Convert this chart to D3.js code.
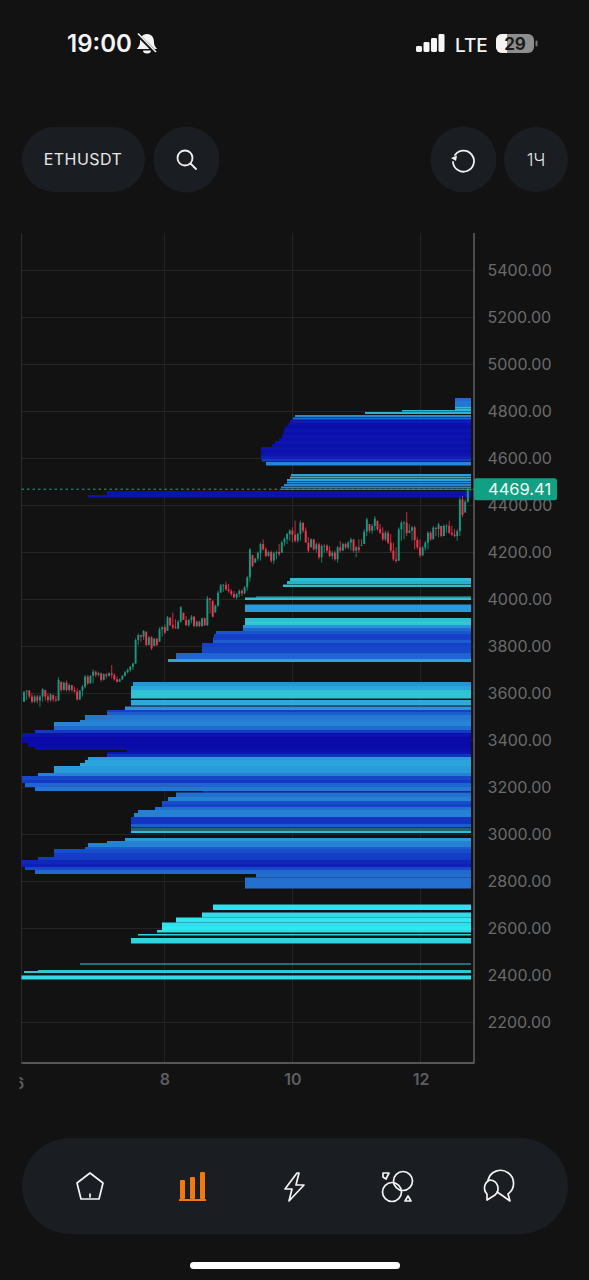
<!DOCTYPE html>
<html><head><meta charset="utf-8">
<style>html,body{margin:0;padding:0;background:#121212;overflow:hidden}svg{display:block}text{font-family:Inter,"Noto Sans",sans-serif}</style>
<script src="https://cdn.jsdelivr.net/npm/d3@7"></script></head><body>
<script>
// ---- data (price high, price low, first day of the liquidity band, intensity 0-100)
const bandsUpper=[[4857.4,4844.7,12.539,40],[4844.7,4831.9,12.539,45],[4831.9,4819.1,12.539,45],[4819.1,4812.8,12.539,75],[4812.8,4806.4,12.539,70],[4806.4,4800,11.711,70],[4797.9,4789.4,11.133,68],[4785.1,4776.6,10.039,52],[4774.5,4766,10.008,42],[4763.8,4751.1,9.961,8],[4751.1,4738.3,9.93,4],[4738.3,4725.5,9.883,2],[4725.5,4712.8,9.867,5],[4712.8,4700,9.852,2],[4700,4687.2,9.836,5],[4687.2,4674.5,9.789,2],[4674.5,4661.7,9.727,5],[4661.7,4648.9,9.68,3],[4648.9,4636.2,9.508,5],[4636.2,4623.4,9.508,3],[4623.4,4610.6,9.508,6],[4610.6,4597.9,9.508,10],[4597.9,4587.2,9.523,22],[4585.1,4570.2,9.586,50]];
const bandsNear=[[4534,4525.5,9.977,60],[4523.4,4514.9,9.961,65],[4512.8,4504.3,9.914,60],[4502.1,4493.6,9.914,55],[4491.5,4483,9.867,50],[4480.9,4474.5,9.82,50],[4472.3,4466,9.82,45],[4461.7,4444.7,7.102,4],[4444.7,4434,6.805,4]];
const bandsSupport=[[4091.5,4078.7,9.961,72],[4078.7,4066,9.914,65],[4063.8,4053.2,9.852,72],[4012.8,4008.5,9.43,70],[4008.5,3997.9,9.258,75],[3978.7,3946.8,9.258,58],[3921.3,3908.5,9.258,72],[3908.5,3891.5,9.258,78],[3891.5,3878.7,9.227,55],[3878.7,3866,9.227,40],[3866,3853.2,8.805,32],[3853.2,3840.4,8.773,25],[3840.4,3827.7,8.758,25],[3827.7,3814.9,8.758,35],[3814.9,3797.9,8.586,25],[3797.9,3772.3,8.586,28],[3772.3,3746.8,8.18,38],[3746.8,3734,8.055,62]];
const bandsMain=[[3648.9,3631.9,7.508,55],[3631.9,3614.9,7.477,62],[3614.9,3597.9,7.477,75],[3597.9,3578.7,7.477,76],[3572.3,3563.8,7.477,65],[3563.8,3548.9,7.477,65],[3544.7,3529.8,7.383,55],[3529.8,3521.3,7.102,25],[3521.3,3508.5,7.102,35],[3508.5,3487.2,6.758,45],[3487.2,3478.7,6.68,48],[3478.7,3461.7,6.273,50],[3461.7,3444.7,6.273,40],[3444.7,3431.9,5.977,22],[3431.9,3414.9,5.773,4],[3414.9,3389.4,5.773,0],[3389.4,3372.3,5.867,0],[3372.3,3359.6,5.977,2],[3359.6,3351.1,7.414,3],[3351.1,3342.6,7.102,6],[3342.6,3329.8,7.102,18],[3329.8,3317,6.805,58],[3317,3304.3,6.758,62],[3304.3,3291.5,6.68,62],[3291.5,3278.7,6.273,58],[3278.7,3261.7,6.273,58],[3261.7,3248.9,6.023,48],[3248.9,3231.9,5.773,28],[3231.9,3219.2,5.773,22],[3219.2,3202.1,5.82,38],[3202.1,3185.1,5.977,45]];
const bandsLowerBlue=[[3185.1,3178.7,8.602,15],[3178.7,3159.6,8.18,42],[3159.6,3142.6,8.055,48],[3142.6,3129.8,7.961,30],[3129.8,3117,7.961,25],[3117,3104.3,7.852,42],[3104.3,3091.5,7.586,48],[3091.5,3074.5,7.523,48],[3074.5,3057.4,7.477,20],[3057.4,3044.7,7.477,20],[3044.7,3029.8,7.477,35],[3025.5,3021.3,7.477,70],[3017,3006.4,7.477,72],[2985.1,2972.3,7.383,58],[2972.3,2963.8,7.102,50],[2963.8,2946.8,6.805,48],[2946.8,2938.3,6.758,35],[2938.3,2921.3,6.273,30],[2921.3,2904.3,6.273,24],[2904.3,2891.5,6.023,22],[2891.5,2874.5,5.773,14],[2874.5,2861.7,5.773,10],[2861.7,2848.9,5.82,28],[2848.9,2831.9,5.977,40],[2831.9,2817,9.43,42],[2817,2770.2,9.258,42]];
const bandsCyan=[[2702.1,2678.7,8.758,95],[2668.1,2646.8,8.586,92],[2646.8,2625.5,8.18,100],[2625.5,2610.6,7.961,95],[2610.6,2593.6,7.961,100],[2593.6,2583,7.883,92],[2576.6,2570.2,7.586,85],[2559.6,2536.2,7.477,85],[2451.1,2446.8,6.68,80],[2423.4,2419.2,6.023,75],[2419.2,2410.6,5.805,78],[2400,2383,5.766,92]];
const bandEndDay=12.789;

const candleHigh=[3608,3615,3615,3601,3594,3594,3594,3622,3615,3601,3601,3594,3590,3669,3650,3650,3655,3643,3636,3629,3622,3615,3636,3679,3679,3679,3703,3697,3693,3689,3686,3686,3690,3721,3686,3672,3664,3679,3696,3707,3717,3731,
3835,3856,3849,3870,3863,3845,3845,3837,3837,3882,3887,3894,3930,3923,3944,3916,3913,3972,3944,3930,3916,3934,3930,3910,3910,3923,3923,4015,4005,3995,3979,4038,4066,4066,4076,4066,4043,4036,4029,4043,4043,4057,4100,
4218,4189,4178,4204,4242,4256,4222,4208,4208,4204,4208,4236,4250,4265,4284,4299,4307,4336,4284,4336,4327,4307,4265,4260,4256,4242,4242,4235,4235,4235,4228,4208,4208,4228,4249,4242,4242,4249,4263,4256,4228,4256,
4256,4299,4348,4321,4321,4355,4335,4321,4307,4293,4293,4279,4242,4222,4307,4335,4335,4372,4321,4313,4313,4265,4256,4228,4249,4291,4291,4313,4306,4327,4313,4320,4320,4335,4313,4299,4299,4435,4440,4426,4477,4472];
const candleLow=[3565,3572,3580,3558,3561,3558,3544,3565,3570,3561,3565,3565,3565,3570,3608,3612,3608,3608,3608,3604,3570,3572,3587,3622,3636,3643,3643,3669,3672,3650,3655,3664,3672,3664,3655,3646,3650,3658,3672,3686,3693,3700,
3725,3806,3820,3828,3802,3806,3785,3802,3802,3820,3842,3853,3867,3887,3873,3877,3873,3901,3913,3887,3884,3899,3882,3882,3882,3884,3887,3887,3941,3924,3945,3967,4029,4033,4037,4029,4015,4005,4001,4009,4015,4023,4037,
4076,4137,4157,4165,4165,4208,4180,4182,4157,4151,4171,4185,4199,4228,4236,4250,4242,4242,4242,4250,4284,4242,4199,4222,4208,4199,4171,4157,4199,4199,4180,4171,4165,4157,4199,4208,4214,4214,4208,4199,4180,4199,
4228,4236,4270,4284,4279,4293,4293,4279,4250,4250,4236,4199,4165,4157,4165,4250,4256,4270,4284,4250,4213,4213,4179,4185,4208,4213,4250,4256,4270,4265,4265,4270,4284,4279,4270,4265,4250,4270,4350,4370,4412,4463];
const candleClose=[3608,3612,3587,3565,3587,3570,3587,3618,3587,3572,3596,3575,3570,3658,3615,3646,3615,3636,3615,3608,3575,3612,3629,3672,3643,3675,3693,3679,3686,3658,3682,3675,3686,3679,3660,3650,3660,3675,3690,3700,3714,3728,
3828,3849,3842,3866,3806,3839,3792,3833,3806,3873,3882,3859,3924,3891,3882,3877,3906,3967,3913,3891,3913,3927,3887,3906,3887,3920,3891,4005,3998,3927,3974,4029,4060,4062,4043,4036,4023,4009,4023,4037,4026,4052,4094,
4214,4143,4174,4199,4236,4214,4185,4202,4165,4197,4202,4194,4243,4257,4279,4293,4275,4250,4279,4327,4293,4242,4208,4256,4214,4235,4180,4228,4229,4208,4185,4199,4171,4222,4208,4236,4222,4242,4256,4208,4222,4211,
4232,4289,4341,4293,4313,4345,4299,4284,4256,4284,4242,4208,4171,4164,4299,4327,4327,4282,4293,4307,4253,4222,4188,4221,4242,4284,4256,4306,4300,4320,4270,4313,4314,4284,4277,4270,4291,4426,4360,4416,4465,4469.41];
const firstCandleDay=5.805, lastCandleDay=12.781;

const priceTicks=[5400,5200,5000,4800,4600,4400,4200,4000,3800,3600,3400,3200,3000,2800,2600,2400,2200];
const dayTicks=[8,10,12];
const clippedDayLabel="6", clippedDayAt=5.73;
const lastPrice=4469.41;

// ---- page
const W=589,H=1280;
const svg=d3.select("body").append("svg").attr("width",W).attr("height",H);
svg.append("rect").attr("width",W).attr("height",H).attr("fill","#121212");
const x=d3.scaleLinear().domain([5.766,12.836]).range([21.5,474]);
const y=d3.scaleLinear().domain([2027.7,5559.6]).range([1063,233]);
const intensity=d3.scaleLinear().domain([0,25,45,60,75,100])
  .range(["#0a0aa8","#1540c8","#2578d2","#2aa0dc","#30c4d2","#2ee8f2"]);

const grid=svg.append("g");
grid.selectAll("line.h").data(priceTicks).join("line").attr("x1",x.range()[0]).attr("x2",x.range()[1])
  .attr("y1",d=>y(d)).attr("y2",d=>y(d)).attr("stroke","#252525");
grid.selectAll("line.v").data(dayTicks).join("line").attr("y1",233).attr("y2",1063)
  .attr("x1",d=>x(d)).attr("x2",d=>x(d)).attr("stroke","#252525");
grid.append("line").attr("x1",21.5).attr("x2",21.5).attr("y1",233).attr("y2",1063).attr("stroke","#2a2a2a");

const allBands=[...bandsUpper,...bandsNear,...bandsSupport,...bandsMain,...bandsLowerBlue,...bandsCyan];
svg.append("g").selectAll("rect").data(allBands).join("rect")
  .attr("x",d=>x(d[2])).attr("width",d=>x(bandEndDay)-x(d[2]))
  .attr("y",d=>y(d[0])).attr("height",d=>y(d[1])-y(d[0]))
  .attr("fill",d=>intensity(d[3]));

// dashed last price line
svg.append("line").attr("x1",21.5).attr("x2",474).attr("y1",y(lastPrice)).attr("y2",y(lastPrice))
  .attr("stroke","#1fa588").attr("stroke-dasharray","2.5 3").attr("stroke-width",1);

// candles
const t=d3.scaleLinear().domain([0,candleClose.length-1]).range([firstCandleDay,lastCandleDay]);
const candles=svg.append("g");
candleClose.forEach((c,i)=>{
  const hi=candleHigh[i],lo=candleLow[i];
  const o=i?Math.max(lo,Math.min(hi,candleClose[i-1])):lo;
  const col=c>=o?"#169a80":"#f0364f";
  const cx=x(t(i));
  candles.append("line").attr("x1",cx).attr("x2",cx).attr("y1",y(hi)).attr("y2",y(lo)).attr("stroke",col).attr("stroke-width",0.8);
  candles.append("rect").attr("x",cx-0.95).attr("width",1.9).attr("y",y(Math.max(o,c))).attr("height",Math.max(0.8,Math.abs(y(o)-y(c)))).attr("fill",col);
});

// axes frame
svg.append("path").attr("d",`M${x.range()[0]},1063H474V233`).attr("fill","none").attr("stroke","#6b6c6e").attr("stroke-width",1.3);

const yAxis=d3.axisRight(y).tickValues(priceTicks).tickFormat(d3.format(".2f")).tickSize(0).tickPadding(13.5);
const gy=svg.append("g").attr("transform","translate(474,0)").call(yAxis);
gy.select(".domain").remove();
gy.selectAll("text").attr("fill","#6a6b6d").attr("font-size",16).attr("font-family","Inter").attr("font-weight",400);

const xAxis=d3.axisBottom(x).tickValues(dayTicks).tickFormat(d3.format("d")).tickSize(0).tickPadding(11);
const gx=svg.append("g").attr("transform","translate(0,1063)").call(xAxis);
gx.select(".domain").remove();
gx.selectAll("text").attr("fill","#5b5e62").attr("font-size",16).attr("font-family","Inter").attr("font-weight",600);

svg.append("clipPath").attr("id","cl").append("rect").attr("x",19.5).attr("y",1065).attr("width",30).attr("height",40);
svg.append("text").attr("clip-path","url(#cl)").attr("x",x(clippedDayAt)).attr("y",1089).attr("text-anchor","middle")
  .attr("font-size",16).attr("font-weight",600).attr("fill","#5b5e62").text(clippedDayLabel);

// last price tag
svg.append("rect").attr("x",474).attr("y",y(lastPrice)-11).attr("width",83).attr("height",22).attr("rx",2.5).attr("fill","#12a084");
svg.append("text").attr("x",488).attr("y",y(lastPrice)+6).attr("font-size",16.5).attr("fill","#f2f7f5").text(d3.format(".2f")(lastPrice));

// top bar
const PILL="#1a1d22";
svg.append("rect").attr("x",22).attr("y",127).attr("width",123).attr("height",65).attr("rx",32.5).attr("fill",PILL);
svg.append("circle").attr("cx",186.5).attr("cy",159.5).attr("r",33).attr("fill",PILL);
svg.append("circle").attr("cx",463.5).attr("cy",159.5).attr("r",33).attr("fill",PILL);
svg.append("rect").attr("x",504).attr("y",127).attr("width",64).attr("height",65).attr("rx",32).attr("fill",PILL);
svg.append("text").attr("x",83).attr("y",165).attr("text-anchor","middle").attr("font-size",16).attr("fill","#e6e7e8").attr("letter-spacing",0.45).text("ETHUSDT");
svg.append("text").attr("x",536).attr("y",165.5).attr("text-anchor","middle").attr("font-size",17).attr("font-weight",300).attr("fill","#e6e7e8").text("1Ч");
const icon=svg.append("g").attr("fill","none").attr("stroke","#f1f1f1").attr("stroke-width",1.8).attr("stroke-linecap","round").attr("stroke-linejoin","round");
icon.append("circle").attr("cx",185).attr("cy",158).attr("r",7.5);
icon.append("path").attr("d","M190.5,163.5L196,169");
icon.append("path").attr("d","M455,155A10.5,10.5 0 1 1 453,162");
svg.append("path").attr("d","M451,158L457,155.5L456,161Z").attr("fill","#f1f1f1");

// status bar
svg.append("text").attr("x",67).attr("y",52).attr("font-size",24).attr("font-weight",600).attr("fill","#f5f5f5").text("19:00");
svg.append("path").attr("d","M147,34c-5,0-7,4-7,8c0,4-2,5-3,7h20c-1-2-3-3-3-7c0-4-2-8-7-8zM143,50.5h8a4,3 0 0 1-8,0z").attr("fill","#f5f5f5");
svg.append("path").attr("d","M137,34L156,53").attr("stroke","#121212").attr("stroke-width",3.5);
svg.append("path").attr("d","M138,33.5L156,52").attr("stroke","#f5f5f5").attr("stroke-width",1.6);
[[416,46,6],[423.5,42,10],[431,38,14],[438.5,34,18]].forEach(b=>svg.append("rect").attr("x",b[0]).attr("y",b[1]).attr("width",6).attr("height",b[2]).attr("rx",1.4).attr("fill","#f5f5f5"));
svg.append("text").attr("x",455).attr("y",51.5).attr("font-size",19).attr("font-family","Roboto").attr("font-weight",500).attr("fill","#f2f2f2").text("LTE");
svg.append("rect").attr("x",496).attr("y",34).attr("width",38).attr("height",19).attr("rx",6).attr("fill","#8e8e8e");
svg.append("path").attr("d","M502,34H507V53H502A6,6 0 0 1 496,47V40A6,6 0 0 1 502,34Z").attr("fill","#f5f5f5");
svg.append("rect").attr("x",535.5).attr("y",40.5).attr("width",2).attr("height",6).attr("rx",1).attr("fill","#777");
svg.append("text").attr("x",515).attr("y",49.5).attr("text-anchor","middle").attr("font-size",17).attr("font-weight",700).attr("fill","#1b1b1b").text("29");

// bottom nav
svg.append("rect").attr("x",22).attr("y",1138).attr("width",546).attr("height",96).attr("rx",48).attr("fill",PILL);
const nav=svg.append("g").attr("fill","none").attr("stroke","#f4f4f4").attr("stroke-width",1.7).attr("stroke-linejoin","round").attr("stroke-linecap","round");
nav.append("path").attr("d","M90,1173L103,1183L99,1199H81L77,1183ZM90,1194V1197");
[[180,1180,19],[190,1177,22],[200,1172,27]].forEach(b=>svg.append("rect").attr("x",b[0]).attr("y",b[1]).attr("width",5).attr("height",b[2]).attr("rx",1).attr("fill","#f2790f"));
svg.append("rect").attr("x",179).attr("y",1199).attr("width",27).attr("height",2).attr("fill","#f2790f");
nav.append("path").attr("d","M297,1173L285,1189H292L289,1201L304,1185H296L299,1173Z");
nav.append("circle").attr("cx",403).attr("cy",1181).attr("r",9.5);
nav.append("circle").attr("cx",392).attr("cy",1192).attr("r",9.5);
nav.append("path").attr("d","M383,1173H389L386,1179L383,1177ZM408,1196L411,1201H405Z");
nav.append("path").attr("d","M488,1180A13,13 0 1 1 508,1194L510,1201L503,1196L497,1192");
nav.append("path").attr("d","M490,1180A8.5,8.5 0 0 1 495,1195L487,1200L487,1194A8.5,8.5 0 0 1 490,1180Z");
svg.append("rect").attr("x",190).attr("y",1262).attr("width",210).attr("height",7).attr("rx",3.5).attr("fill","#fff");
</script></body></html>
